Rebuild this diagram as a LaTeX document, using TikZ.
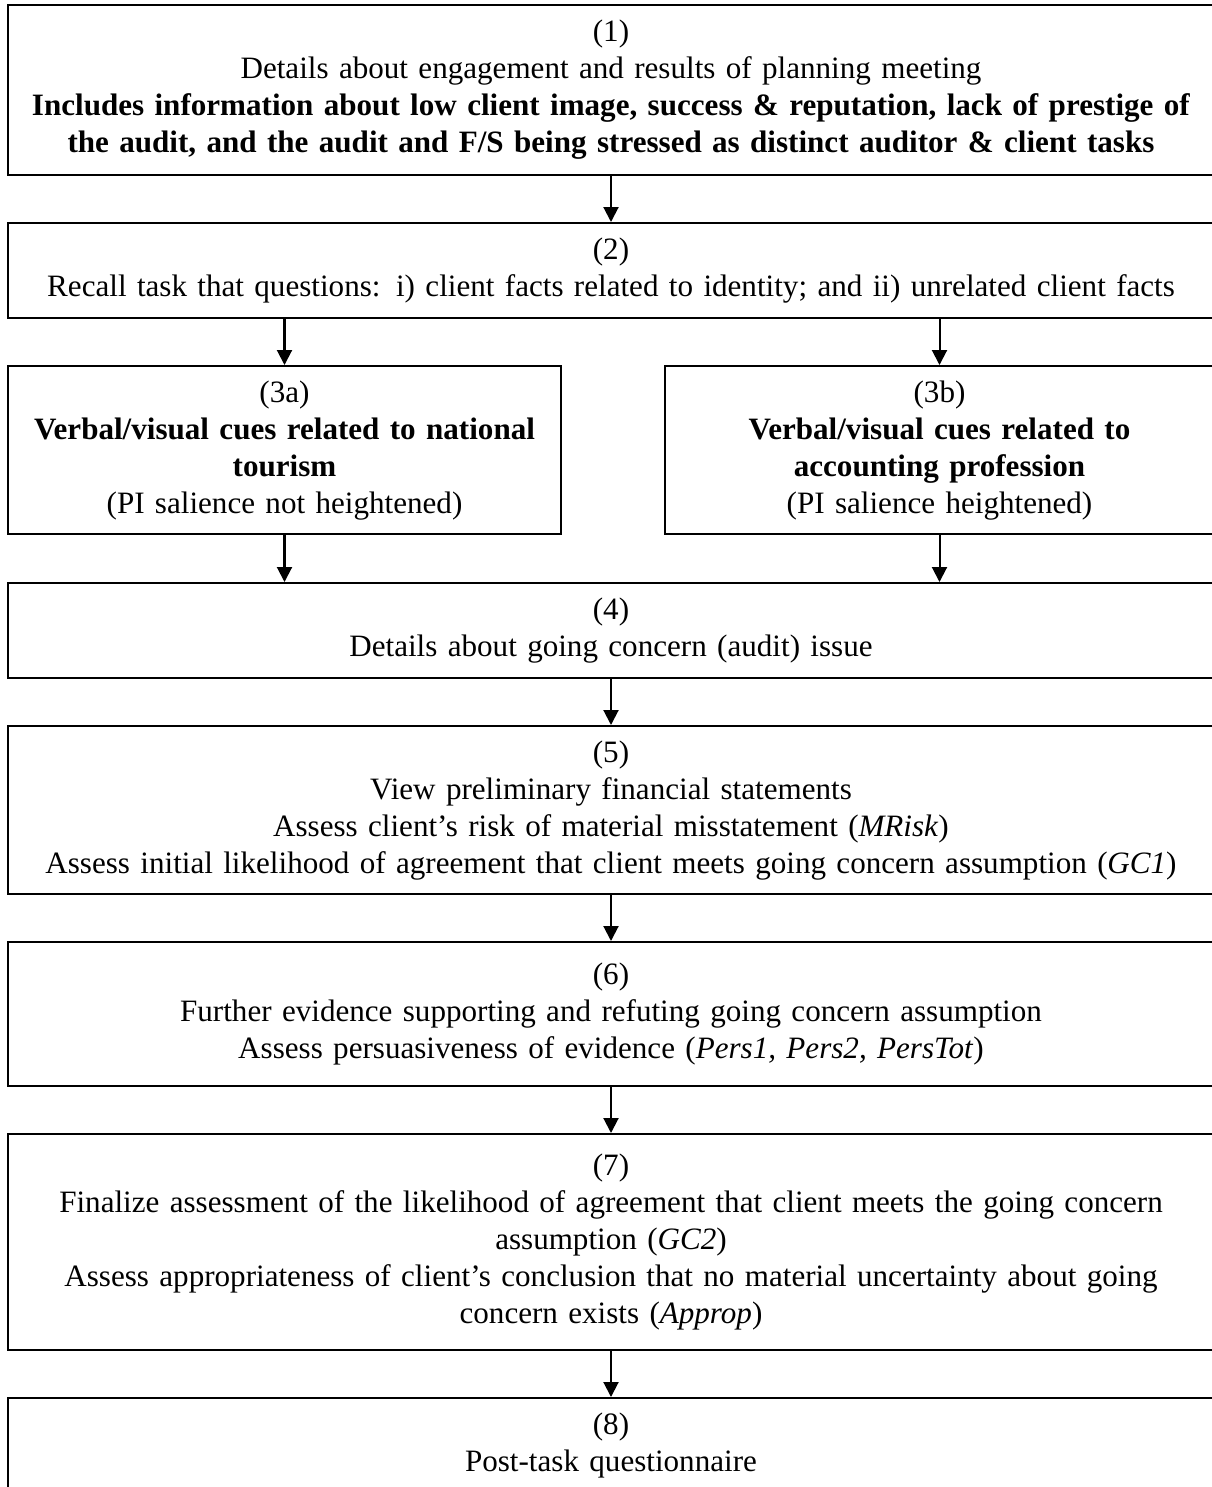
\documentclass[tikz,border=0pt]{standalone}
\usepackage{fontspec}
\setmainfont{Liberation Serif}
\usetikzlibrary{arrows.meta}
\tikzset{
    stage/.style={draw=black, line width=0.8pt, align=center, inner xsep=2pt,
        font=\fontsize{11.6pt}{13.8pt}\selectfont, anchor=north},
    widestage/.style={stage, text width=446pt, minimum width=450pt},
    halfstage/.style={stage, text width=200pt},
    flow/.style={-{Triangle[width=5.6pt,length=5.6pt]}, line width=0.75pt}
}

\begin{document}
\begin{tikzpicture}[x=0.3731pt, y=-0.3731pt]

            \useasboundingbox (0,0) rectangle (1212,1487);

            \node[widestage, minimum height=63.4pt] (s1) at (611,4) {(1)\\
                Details about engagement and results of planning meeting\\
                \textbf{Includes information about low client image, success \& reputation, lack of prestige of}\\
                \textbf{the audit, and the audit and F/S being stressed as distinct auditor \& client tasks}};
            \node[widestage, minimum height=35.4pt] (s2) at (611,222) {(2)\\
                Recall task that questions: i) client facts related to identity; and ii) unrelated client facts};
            \node[halfstage, minimum width=206.3pt, minimum height=62.7pt] (s3a) at (284.5,365) {(3a)\\
                \textbf{Verbal/visual cues related to national}\\ \textbf{tourism}\\
                (PI salience not heightened)};
            \node[halfstage, minimum width=204.9pt, minimum height=62.7pt] (s3b) at (939.5,365) {(3b)\\
                \textbf{Verbal/visual cues related to}\\ \textbf{accounting profession}\\
                (PI salience heightened)};
            \node[widestage, minimum height=35.4pt] (s4) at (611,582) {(4)\\
                Details about going concern (audit) issue};
            \node[widestage, minimum height=62.7pt] (s5) at (611,725) {(5)\\
                View preliminary financial statements\\
                Assess client’s risk of material misstatement (\textit{MRisk})\\
                Assess initial likelihood of agreement that client meets going concern assumption (\textit{GC1})};
            \node[widestage, minimum height=53.7pt] (s6) at (611,941) {(6)\\
                Further evidence supporting and refuting going concern assumption\\
                Assess persuasiveness of evidence (\textit{Pers1, Pers2, PersTot})};
            \node[widestage, minimum height=80.6pt] (s7) at (611,1133) {(7)\\
                Finalize assessment of the likelihood of agreement that client meets the going concern\\
                assumption (\textit{GC2})\\
                Assess appropriateness of client’s conclusion that no material uncertainty about going\\
                concern exists (\textit{Approp})};
            \node[widestage, minimum height=35.4pt] (s8) at (611,1397) {(8)\\
                Post-task questionnaire};

            \draw[flow] (s1) -- (s2);
            \draw[flow] (s2.south -| s3a.north) -- (s3a.north);
            \draw[flow] (s2.south -| s3b.north) -- (s3b.north);
            \draw[flow] (s3a.south) -- (s3a.south |- s4.north);
            \draw[flow] (s3b.south) -- (s3b.south |- s4.north);
            \draw[flow] (s4) -- (s5);
            \draw[flow] (s5) -- (s6);
            \draw[flow] (s6) -- (s7);
            \draw[flow] (s7) -- (s8);

        \end{tikzpicture}
\end{document}
